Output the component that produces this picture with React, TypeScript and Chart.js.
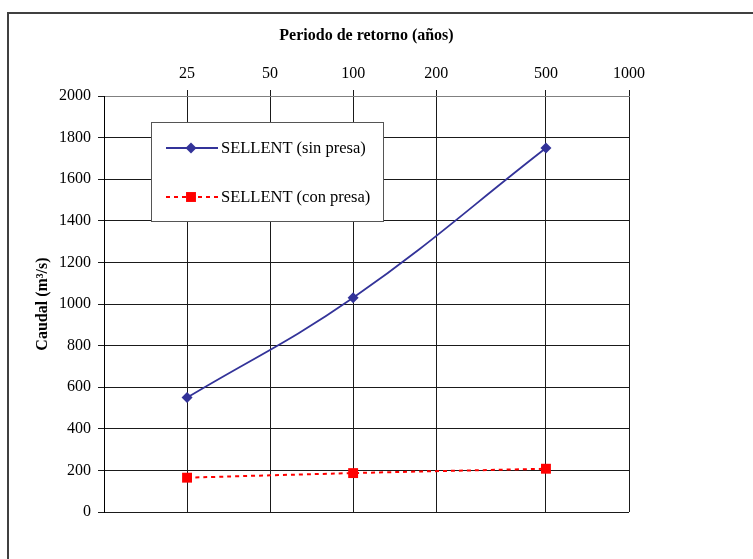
import React, { useEffect, useRef } from "react";
import { Chart, registerables } from "chart.js";

Chart.register(...registerables);

// ---- data ----
const returnPeriods = [25, 100, 500];
const sinPresa = [550, 1030, 1750];
const conPresa = [165, 187, 208];
const xTickValues = [25, 50, 100, 200, 500, 1000];
const xMin = 12.5;
const xMax = 1000;
const yMin = 0;
const yMax = 2000;
const yStep = 200;
const seriesLabels = ["SELLENT (sin presa)", "SELLENT (con presa)"];
const xTitle = "Periodo de retorno (años)";
const yTitle = "Caudal (m³/s)";

const FONT = "'Liberation Serif', 'Times New Roman', serif";

const frameBorder = {
  id: "frameBorder",
  beforeDraw(chart: any) {
    const ctx = chart.ctx;
    ctx.save();
    ctx.fillStyle = "#fff";
    ctx.fillRect(0, 0, chart.width, chart.height);
    ctx.strokeStyle = "#404040";
    ctx.lineWidth = 2;
    ctx.strokeRect(8, 13, 900, 700);
    ctx.restore();
  },
};

const boxLegend = {
  id: "boxLegend",
  afterDraw(chart: any) {
    const ctx = chart.ctx;
    ctx.save();
    const bx = 151.5, by = 122.5, bw = 232, bh = 99;
    ctx.fillStyle = "#fff";
    ctx.fillRect(bx, by, bw, bh);
    ctx.strokeStyle = "#555";
    ctx.lineWidth = 1;
    ctx.strokeRect(bx, by, bw, bh);
    const rows = [148, 197];
    chart.data.datasets.forEach((ds: any, i: number) => {
      const y = rows[i];
      ctx.strokeStyle = ds.borderColor;
      ctx.lineWidth = ds.borderWidth;
      ctx.setLineDash(ds.borderDash || []);
      ctx.beginPath();
      ctx.moveTo(166, y);
      ctx.lineTo(218, y);
      ctx.stroke();
      ctx.setLineDash([]);
      ctx.fillStyle = ds.pointBackgroundColor;
      const cx = 191;
      if (ds.pointStyle === "rectRot") {
        const r = ds.pointRadius;
        ctx.beginPath();
        ctx.moveTo(cx - r, y);
        ctx.lineTo(cx, y - r);
        ctx.lineTo(cx + r, y);
        ctx.lineTo(cx, y + r);
        ctx.closePath();
        ctx.fill();
      } else {
        const s = Math.SQRT1_2 * ds.pointRadius;
        ctx.fillRect(cx - s, y - s, 2 * s, 2 * s);
      }
      ctx.fillStyle = "#000";
      ctx.font = `16.5px ${FONT}`;
      ctx.textBaseline = "middle";
      ctx.textAlign = "left";
      ctx.fillText(ds.label, 221, y + 1);
    });
    ctx.restore();
  },
};

export default function App() {
  const ref = useRef<HTMLCanvasElement | null>(null);

  useEffect(() => {
    if (!ref.current) return;
    const chart = new Chart(ref.current, {
      type: "line",
      data: {
        datasets: [
          {
            label: seriesLabels[0],
            data: returnPeriods.map((x, i) => ({ x, y: sinPresa[i] })),
            borderColor: "#333399",
            backgroundColor: "#333399",
            pointBackgroundColor: "#333399",
            pointBorderColor: "#333399",
            borderWidth: 1.8,
            pointStyle: "rectRot",
            pointRadius: 5.5,
            pointBorderWidth: 0,
            tension: 0.4,
            fill: false,
          },
          {
            label: seriesLabels[1],
            data: returnPeriods.map((x, i) => ({ x, y: conPresa[i] })),
            borderColor: "#ff0000",
            backgroundColor: "#ff0000",
            pointBackgroundColor: "#ff0000",
            pointBorderColor: "#ff0000",
            borderWidth: 2,
            borderDash: [4, 4],
            pointStyle: "rect",
            pointRadius: 7,
            pointBorderWidth: 0,
            tension: 0.4,
            fill: false,
          },
        ],
      },
      options: {
        responsive: false,
        animation: false,
        layout: { padding: { left: 0, top: 0, right: 124, bottom: 47 } },
        plugins: {
          legend: { display: false },
          tooltip: { enabled: false },
        },
        scales: {
          x: {
            type: "logarithmic",
            position: "top",
            min: xMin,
            max: xMax,
            afterBuildTicks(scale: any) {
              scale.ticks = xTickValues.map((v) => ({ value: v }));
            },
            afterFit(scale: any) {
              scale.height = 96;
            },
            ticks: {
              autoSkip: false,
              maxRotation: 0,
              padding: 7,
              color: "#000",
              font: { family: FONT, size: 16 },
              callback: (v: any) => String(v),
            },
            grid: { color: "#1a1a1a", lineWidth: 1, tickLength: 6 },
            border: { color: "#808080", width: 1 },
            title: {
              display: true,
              text: xTitle,
              color: "#000",
              font: { family: FONT, size: 16, weight: "bold" },
              padding: { top: 26, bottom: 0 },
            },
          },
          y: {
            type: "linear",
            min: yMin,
            max: yMax,
            afterFit(scale: any) {
              scale.width = 104;
            },
            ticks: {
              stepSize: yStep,
              padding: 7,
              color: "#000",
              font: { family: FONT, size: 16 },
              callback: (v: any) => String(v),
            },
            grid: { color: "#1a1a1a", lineWidth: 1, tickLength: 6 },
            border: { color: "#000", width: 1 },
            title: {
              display: true,
              text: yTitle,
              color: "#000",
              font: { family: FONT, size: 16, weight: "bold" },
              padding: { top: 33, bottom: 0 },
            },
          },
        },
      } as any,
      plugins: [frameBorder, boxLegend],
    });
    return () => chart.destroy();
  }, []);

  return (
    <canvas
      ref={ref}
      width={753}
      height={559}
      style={{ position: "fixed", left: 0, top: 0, display: "block" }}
    />
  );
}
